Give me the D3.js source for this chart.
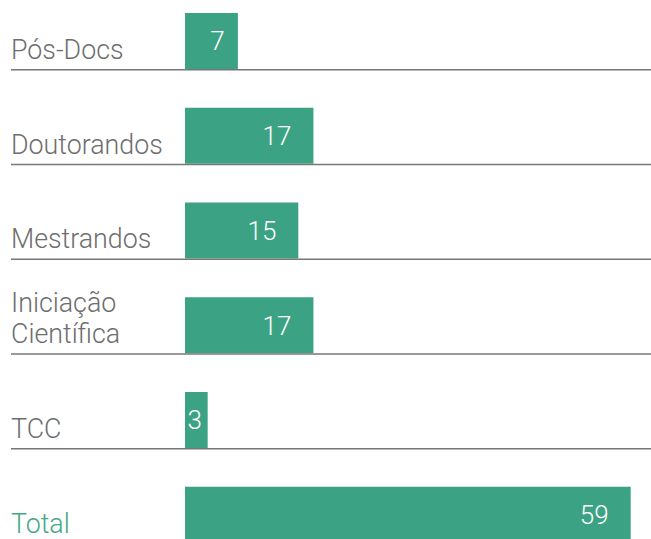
<!DOCTYPE html>
<html>
<head>
<meta charset="utf-8">
<script src="https://cdnjs.cloudflare.com/ajax/libs/d3/7.8.5/d3.min.js"></script>
<style>
    body { margin: 0; background: #fff; }
    svg text { font-family: Roboto, "Noto Sans", sans-serif; font-weight: 300; }
</style>
</head>
<body>
<svg width="651" height="539"></svg>
<script>
    // data
    const categories = ["Pós-Docs", "Doutorandos", "Mestrandos", "Iniciação Científica", "TCC", "Total"];
    const values = [7, 17, 15, 17, 3, 59];

    const green = "#3ba383";
    const grey = "#6e6e6e";

    const svg = d3.select("svg");

    const x = d3.scaleLinear().domain([0, 59]).range([185, 630.7]);
    const y = d3.scaleBand().domain(categories)
        .range([13, 542.75]).paddingInner(0.409).paddingOuter(0);

    const rows = categories.map((c, i) => ({ cat: c, value: values[i] }));

    // bars
    svg.selectAll("rect.bar")
        .data(rows)
        .enter()
        .append("rect")
        .attr("class", "bar")
        .attr("x", x(0))
        .attr("y", d => y(d.cat))
        .attr("width", d => x(d.value) - x(0))
        .attr("height", y.bandwidth())
        .attr("fill", green);

    // row rules
    svg.selectAll("line.rule")
        .data(rows)
        .enter()
        .append("line")
        .attr("class", "rule")
        .attr("x1", 11)
        .attr("x2", 651)
        .attr("y1", d => y(d.cat) + y.bandwidth() + 0.75)
        .attr("y2", d => y(d.cat) + y.bandwidth() + 0.75)
        .attr("stroke", "#777")
        .attr("stroke-width", 1.5);

    // category labels, one word per line
    const labels = svg.selectAll("text.cat")
        .data(rows)
        .enter()
        .append("text")
        .attr("class", "cat")
        .attr("font-size", 26.8)
        .attr("fill", d => d.cat === "Total" ? "#45a886" : grey);

    labels.each(function (d) {
        const words = d.cat.split(" ");
        const base = y(d.cat) + y.bandwidth() - 10;
        words.forEach((w, j) => {
            d3.select(this).append("tspan")
                .attr("x", 11)
                .attr("y", base - (words.length - 1 - j) * 31)
                .text(w);
        });
    });

    // value labels inside bars
    svg.selectAll("text.val")
        .data(rows)
        .enter()
        .append("text")
        .attr("class", "val")
        .attr("font-size", 26)
        .attr("fill", "#fff")
        .attr("text-anchor", "end")
        .attr("x", d => {
            const w = x(d.value) - x(0);
            return x(d.value) - Math.min(w * 0.25, 22);
        })
        .attr("y", d => y(d.cat) + y.bandwidth() / 2)
        .attr("dy", "0.36em")
        .text(d => d.value);
</script>
</body>
</html>
